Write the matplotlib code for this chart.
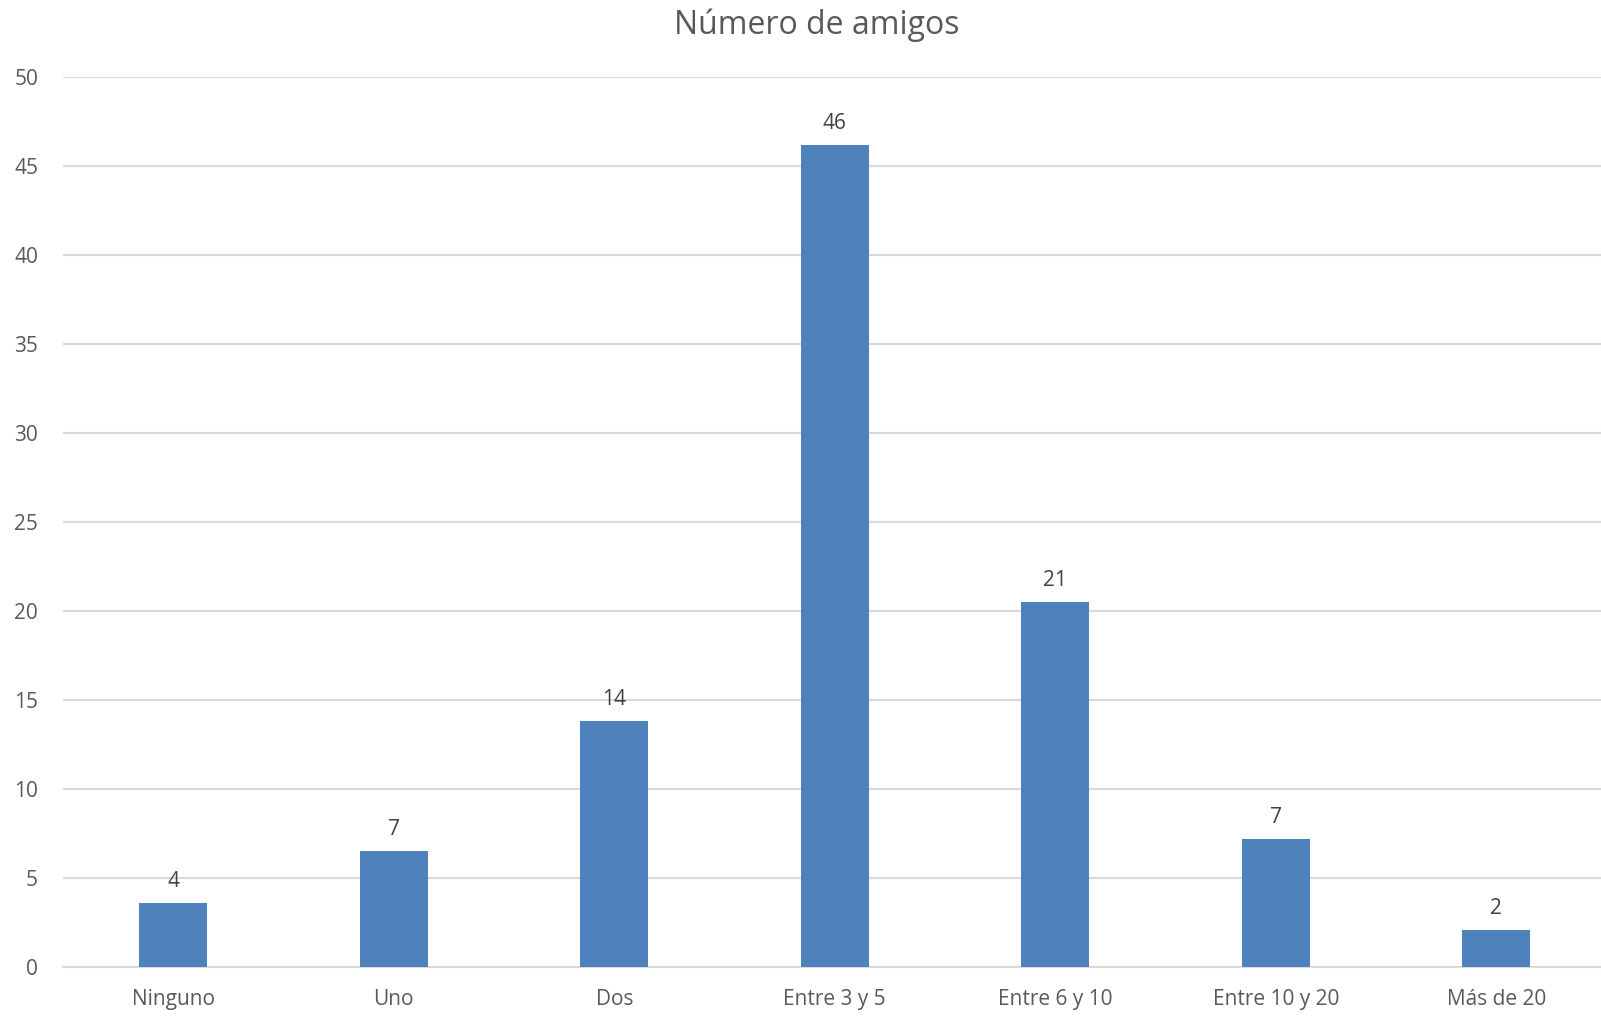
import numpy as np
import matplotlib.pyplot as plt

# data (labels show rounded values)
categorias = ["Ninguno", "Uno", "Dos", "Entre 3 y 5", "Entre 6 y 10", "Entre 10 y 20", "Más de 20"]
valores = [3.6, 6.5, 13.8, 46.2, 20.5, 7.2, 2.1]
etiquetas = ["4", "7", "14", "46", "21", "7", "2"]
yticks = [0, 5, 10, 15, 20, 25, 30, 35, 40, 45, 50]

plt.rcParams['font.family'] = ['Open Sans', 'DejaVu Sans']

fig = plt.figure(figsize=(16.01, 10.17), dpi=100)
ax = fig.add_axes([63/1601, 1 - 967/1017, 1 - 63/1601, (967 - 77)/1017])

x = np.arange(len(categorias))
barras = ax.bar(x, valores, width=0.31, color="#4F81BD", zorder=3)
ax.bar_label(barras, labels=etiquetas, padding=8, fontsize=15, color="#404040")

# the plot runs slightly past the right edge of the picture
ax.set_xlim(-0.5, len(categorias) - 0.525)
ax.set_ylim(0, 50)
ax.set_yticks(yticks)
ax.set_xticks(x)
ax.set_xticklabels(categorias)
ax.tick_params(axis="both", length=0, labelsize=15, labelcolor="#595959")
ax.tick_params(axis="y", pad=18)
ax.tick_params(axis="x", pad=16)

ax.grid(axis="y", color="#D9D9D9", linewidth=1.5, zorder=0)
for s in ["top", "right", "left"]:
    ax.spines[s].set_visible(False)
ax.spines["bottom"].set_color("#D9D9D9")
ax.spines["bottom"].set_linewidth(1.5)

fig.text(817/1601, 1 - 25/1017, "Número de amigos", ha="center", va="center",
         fontsize=23, color="#595959")

fig.savefig("out.png", dpi=100)
